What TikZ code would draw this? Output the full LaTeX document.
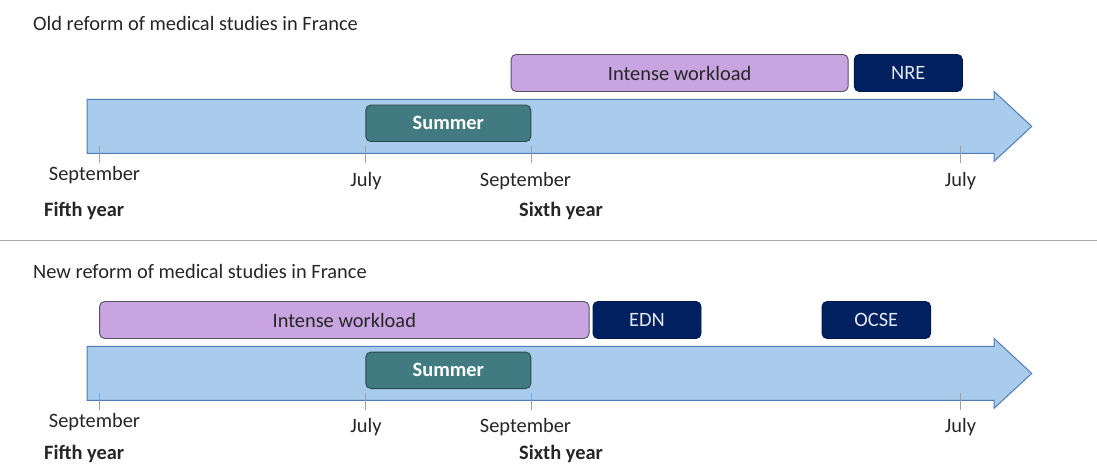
\documentclass[tikz,border=0pt]{standalone}
\usepackage{fontspec}
\setmainfont{Carlito}
\definecolor{txt}{HTML}{262626}
\definecolor{workfill}{HTML}{C8A5E0}
\definecolor{workline}{HTML}{55535F}
\definecolor{navybox}{HTML}{002060}
\definecolor{examtxt}{HTML}{E4E8F0}
\definecolor{summerfill}{HTML}{417A80}
\definecolor{summerline}{HTML}{27484D}
\definecolor{arrowfill}{HTML}{A9CBEC}
\definecolor{arrowline}{HTML}{4F7BBB}
\definecolor{tickgray}{HTML}{A0A0A0}
\definecolor{sepgray}{HTML}{A8A8A8}
\tikzset{
  fs/.style={font=\fontsize{20.4}{24}\selectfont},
  fsb/.style={font=\fontsize{20.4}{24}\selectfont\bfseries},
  lbl/.style={fs, text=txt, inner sep=0pt, anchor=base},
  ttl/.style={fs, text=txt, inner sep=0pt, anchor=base west},
  yearlbl/.style={fsb, text=txt, inner sep=0pt, anchor=base west},
  boxbase/.style={rounded corners=5pt, line width=0.9pt, inner sep=0pt, fs},
  work/.style={boxbase, draw=workline, fill=workfill, text=txt},
  exam/.style={boxbase, draw=navybox!80!black, fill=navybox, text=examtxt},
  summer/.style={boxbase, fsb, draw=summerline, fill=summerfill, text=white},
  arrowshape/.style={draw=arrowline, fill=arrowfill, line width=1pt, line join=miter},
  tickline/.style={draw=tickgray, line width=0.9pt},
  sep/.style={draw=sepgray, line width=1.2pt}
}
\begin{document}
\begin{tikzpicture}[x=1pt,y=-1pt]
\useasboundingbox (0,0) rectangle (1097,465);
\fill[white] (0,0) rectangle (1097,465);

% ---------------- Old reform ----------------
\node[ttl] (t1) at (33,31) {Old reform of medical studies in France};
\draw[arrowshape] (87,99.4) -- (994,99.4) -- (994,91.4) -- (1031.7,126.4)
  -- (994,161.4) -- (994,153.4) -- (87,153.4) -- cycle;
\node[work, minimum width=337pt, minimum height=37pt] (w1) at (679.6,73) {Intense workload};
\node[exam, minimum width=108pt, minimum height=37pt] (nre) at (908.3,73) {NRE};
\node[summer, minimum width=165pt, minimum height=36.5pt] (s1) at (448.3,123.3) {Summer};
\coordinate (a1) at (99.3,146); \coordinate (a1e) at (99.3,163);
\coordinate (b1) at (365.8,146); \coordinate (b1e) at (365.8,163);
\coordinate (c1) at (531,146); \coordinate (c1e) at (531,163);
\coordinate (d1) at (960.6,146); \coordinate (d1e) at (960.6,163);
\draw[tickline] (a1) -- (a1e);
\draw[tickline] (b1) -- (b1e);
\draw[tickline] (c1) -- (c1e);
\draw[tickline] (d1) -- (d1e);
\node[lbl] (m11) at (94.5,181) {September};
\node[lbl] (m12) at (366,186) {July};
\node[lbl] (m13) at (525.5,186) {September};
\node[lbl] (m14) at (960.5,186) {July};
\node[yearlbl] (y11) at (44,216.5) {Fifth year};
\node[yearlbl] (y12) at (519,216.5) {Sixth year};

% separator
\coordinate (sl) at (0,240.7);
\coordinate (sr) at (1097,240.7);
\draw[sep] (sl) -- (sr);

% ---------------- New reform ----------------
\begin{scope}[yshift=-247pt]
\node[ttl] (t2) at (33,31) {New reform of medical studies in France};
\draw[arrowshape] (87,99.4) -- (994,99.4) -- (994,91.4) -- (1031.7,126.4)
  -- (994,161.4) -- (994,153.4) -- (87,153.4) -- cycle;
\node[work, minimum width=489.5pt, minimum height=37pt] (w2) at (344.3,73) {Intense workload};
\node[exam, minimum width=108pt, minimum height=37pt] (edn) at (647,73) {EDN};
\node[exam, minimum width=108.5pt, minimum height=37pt] (ocse) at (876.3,73) {OCSE};
\node[summer, minimum width=165pt, minimum height=36.5pt] (s2) at (448.3,123.3) {Summer};
\coordinate (a2) at (99.3,146); \coordinate (a2e) at (99.3,163);
\coordinate (b2) at (365.8,146); \coordinate (b2e) at (365.8,163);
\coordinate (c2) at (531,146); \coordinate (c2e) at (531,163);
\coordinate (d2) at (960.6,146); \coordinate (d2e) at (960.6,163);
\draw[tickline] (a2) -- (a2e);
\draw[tickline] (b2) -- (b2e);
\draw[tickline] (c2) -- (c2e);
\draw[tickline] (d2) -- (d2e);
\node[lbl] (m21) at (94.5,180) {September};
\node[lbl] (m22) at (366,185) {July};
\node[lbl] (m23) at (525.5,185) {September};
\node[lbl] (m24) at (960.5,185) {July};
\node[yearlbl] (y21) at (44,212.5) {Fifth year};
\node[yearlbl] (y22) at (519,212.5) {Sixth year};
\end{scope}
\end{tikzpicture}
\end{document}
